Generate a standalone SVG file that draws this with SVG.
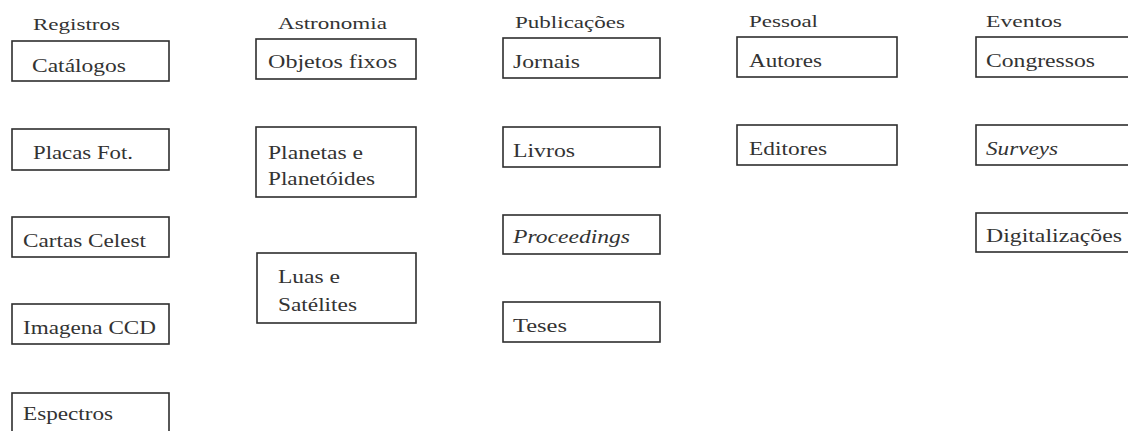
<svg xmlns="http://www.w3.org/2000/svg" width="1128" height="431" viewBox="0 0 1128 431">
  <style>
    .box { fill: none; stroke: #2e2e2e; stroke-width: 1.6; }
    .hd { font-family: "Liberation Serif", "Times New Roman", serif; font-size: 17px; fill: #333333; }
    .lb { font-family: "Liberation Serif", "Times New Roman", serif; font-size: 19px; fill: #333333; }
    .it { font-style: italic; }
  </style>
  <rect width="1128" height="431" fill="#ffffff"/>

  <!-- column headings -->
  <g id="headings">
    <text class="hd" x="33" y="30" textLength="87" lengthAdjust="spacingAndGlyphs">Registros</text>
    <text class="hd" x="278" y="29" textLength="109" lengthAdjust="spacingAndGlyphs">Astronomia</text>
    <text class="hd" x="515" y="28" textLength="110" lengthAdjust="spacingAndGlyphs">Publicações</text>
    <text class="hd" x="749" y="27" textLength="69" lengthAdjust="spacingAndGlyphs">Pessoal</text>
    <text class="hd" x="986" y="27" textLength="76" lengthAdjust="spacingAndGlyphs">Eventos</text>
  </g>

  <!-- Registros -->
  <g id="catalogos">
    <rect class="box" x="12" y="41" width="157" height="40"/>
    <text class="lb" x="32" y="72" textLength="94" lengthAdjust="spacingAndGlyphs">Catálogos</text>
  </g>
  <g id="placas">
    <rect class="box" x="12" y="129" width="157" height="41"/>
    <text class="lb" x="33" y="159" textLength="100" lengthAdjust="spacingAndGlyphs">Placas Fot.</text>
  </g>
  <g id="cartas">
    <rect class="box" x="12" y="217" width="157" height="40"/>
    <text class="lb" x="23" y="247" textLength="123" lengthAdjust="spacingAndGlyphs">Cartas Celest</text>
  </g>
  <g id="imagens">
    <rect class="box" x="12" y="304" width="157" height="40"/>
    <text class="lb" x="23" y="334" textLength="133" lengthAdjust="spacingAndGlyphs">Imagena CCD</text>
  </g>
  <g id="espectros">
    <rect class="box" x="12" y="393" width="157" height="42"/>
    <text class="lb" x="23" y="420" textLength="90" lengthAdjust="spacingAndGlyphs">Espectros</text>
  </g>

  <!-- Astronomia -->
  <g id="objetos">
    <rect class="box" x="256" y="39" width="160" height="40"/>
    <text class="lb" x="268" y="68" textLength="129" lengthAdjust="spacingAndGlyphs">Objetos fixos</text>
  </g>
  <g id="planetas">
    <rect class="box" x="256" y="127" width="160" height="70"/>
    <text class="lb" x="268" y="159" textLength="95" lengthAdjust="spacingAndGlyphs">Planetas e</text>
    <text class="lb" x="268" y="185" textLength="107" lengthAdjust="spacingAndGlyphs">Planetóides</text>
  </g>
  <g id="luas">
    <rect class="box" x="257" y="253" width="159" height="70"/>
    <text class="lb" x="278" y="283" textLength="62" lengthAdjust="spacingAndGlyphs">Luas e</text>
    <text class="lb" x="278" y="311" textLength="79" lengthAdjust="spacingAndGlyphs">Satélites</text>
  </g>

  <!-- Publicações -->
  <g id="jornais">
    <rect class="box" x="503" y="38" width="157" height="40"/>
    <text class="lb" x="513" y="68" textLength="67" lengthAdjust="spacingAndGlyphs">Jornais</text>
  </g>
  <g id="livros">
    <rect class="box" x="503" y="127" width="157" height="40"/>
    <text class="lb" x="513" y="157" textLength="62" lengthAdjust="spacingAndGlyphs">Livros</text>
  </g>
  <g id="proceedings">
    <rect class="box" x="503" y="215" width="157" height="39"/>
    <text class="lb it" x="513" y="243" textLength="117" lengthAdjust="spacingAndGlyphs">Proceedings</text>
  </g>
  <g id="teses">
    <rect class="box" x="503" y="302" width="157" height="40"/>
    <text class="lb" x="513" y="332" textLength="54" lengthAdjust="spacingAndGlyphs">Teses</text>
  </g>

  <!-- Pessoal -->
  <g id="autores">
    <rect class="box" x="737" y="37" width="160" height="40"/>
    <text class="lb" x="749" y="67" textLength="73" lengthAdjust="spacingAndGlyphs">Autores</text>
  </g>
  <g id="editores">
    <rect class="box" x="737" y="125" width="160" height="40"/>
    <text class="lb" x="749" y="155" textLength="78" lengthAdjust="spacingAndGlyphs">Editores</text>
  </g>

  <!-- Eventos -->
  <g id="congressos">
    <rect class="box" x="976" y="37" width="160" height="40"/>
    <text class="lb" x="986" y="67" textLength="109" lengthAdjust="spacingAndGlyphs">Congressos</text>
  </g>
  <g id="surveys">
    <rect class="box" x="976" y="125" width="160" height="40"/>
    <text class="lb it" x="986" y="155" textLength="72" lengthAdjust="spacingAndGlyphs">Surveys</text>
  </g>
  <g id="digitalizacoes">
    <rect class="box" x="976" y="213" width="160" height="39"/>
    <text class="lb" x="986" y="242" textLength="136" lengthAdjust="spacingAndGlyphs">Digitalizações</text>
  </g>

  <g id="connectors"/>
</svg>
